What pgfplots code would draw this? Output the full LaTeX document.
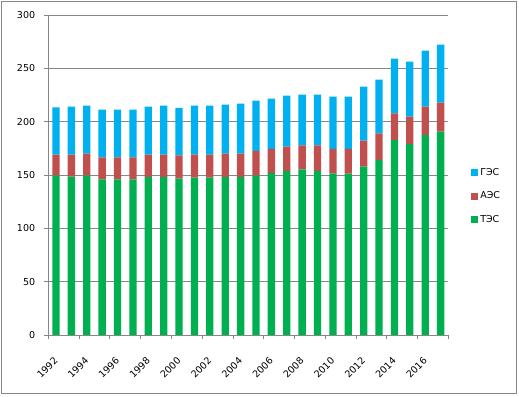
\documentclass[border=0pt]{standalone}
\usepackage{fontspec}
\setmainfont{DejaVu Sans}
\usepackage{pgfplots}
\usepackage{pgfplotstable}
\pgfplotsset{compat=1.18}

\definecolor{ges}{HTML}{00B0F0}
\definecolor{aes}{HTML}{C0504D}
\definecolor{tes}{HTML}{00B050}
\definecolor{gridc}{HTML}{868686}

\pgfplotstableread{
x year tes aes ges
0 1992 149.5 19.5 44.5
1 1993 148.5 20.5 45.0
2 1994 149.5 20.5 45.0
3 1995 146.0 20.5 44.8
4 1996 146.0 20.5 44.8
5 1997 146.0 20.5 44.8
6 1998 148.0 21.0 45.0
7 1999 148.0 21.0 46.0
8 2000 146.5 21.9 44.6
9 2001 147.5 21.5 46.0
10 2002 147.5 21.5 46.0
11 2003 148.0 22.0 46.0
12 2004 148.0 22.0 47.0
13 2005 149.4 23.3 47.0
14 2006 151.7 22.9 47.0
15 2007 153.6 22.9 47.9
16 2008 155.2 22.6 47.6
17 2009 153.9 23.9 47.6
18 2010 151.4 23.2 48.9
19 2011 151.4 23.2 48.9
20 2012 157.8 24.4 50.7
21 2013 164.0 25.0 50.5
22 2014 182.8 25.0 51.4
23 2015 179.0 25.7 51.7
24 2016 187.5 26.6 52.6
25 2017 190.6 27.3 54.4
}\datatable

\begin{document}
\fontsize{9.5bp}{11bp}\selectfont
\begin{tikzpicture}
\path (0,0) rectangle (519bp,397bp);
\draw[gridc, line width=0.75bp] (1bp,4bp) rectangle (516bp,396bp);
\begin{axis}[
  at={(48.3bp,62bp)}, anchor=south west,
  scale only axis, width=400bp, height=320bp,
  xmin=-0.5, xmax=25.5, ymin=0, ymax=300,
  ybar stacked, bar width=0.475,
  axis lines*=left,
  axis line style={gridc, line width=0.75bp},
  ymajorgrids, grid style={gridc, line width=0.75bp},
  ytick={0,50,...,300},
  yticklabel style={anchor=east, inner sep=0pt, xshift=-9bp},
  /pgf/number format/assume math mode=true,
  xtick={0,2,...,24},
  xticklabels={1992,1994,1996,1998,2000,2002,2004,2006,2008,2010,2012,2014,2016},
  xticklabel style={anchor=east, inner sep=0pt, yshift=-20bp, rotate=45},
  minor xtick={-0.5,1.5,...,25.5},
  every major x tick/.append style={draw=none},
  tick style={gridc, line width=0.75bp},
  tick align=outside, tick pos=left,
  major tick length=4bp, minor tick length=4bp,
  font=\fontsize{9.5bp}{11bp}\selectfont,
  reverse legend,
  legend style={at={(axis description cs:1.057,0.434)}, anchor=west, draw=none, fill=none,
    row sep=11bp, inner sep=0pt, font=\fontsize{9.5bp}{11bp}\selectfont},
  legend cell align=left,
  legend image code/.code={\fill[#1] (0bp,-3.5bp) rectangle (7bp,3.5bp);},
]
\addplot[fill=tes, draw=none] table[x=x, y=tes] {\datatable};
\addplot[fill=aes, draw=none] table[x=x, y=aes] {\datatable};
\addplot[fill=ges, draw=none] table[x=x, y=ges] {\datatable};
\legend{ТЭС, АЭС, ГЭС}
\end{axis}
\end{tikzpicture}
\end{document}
